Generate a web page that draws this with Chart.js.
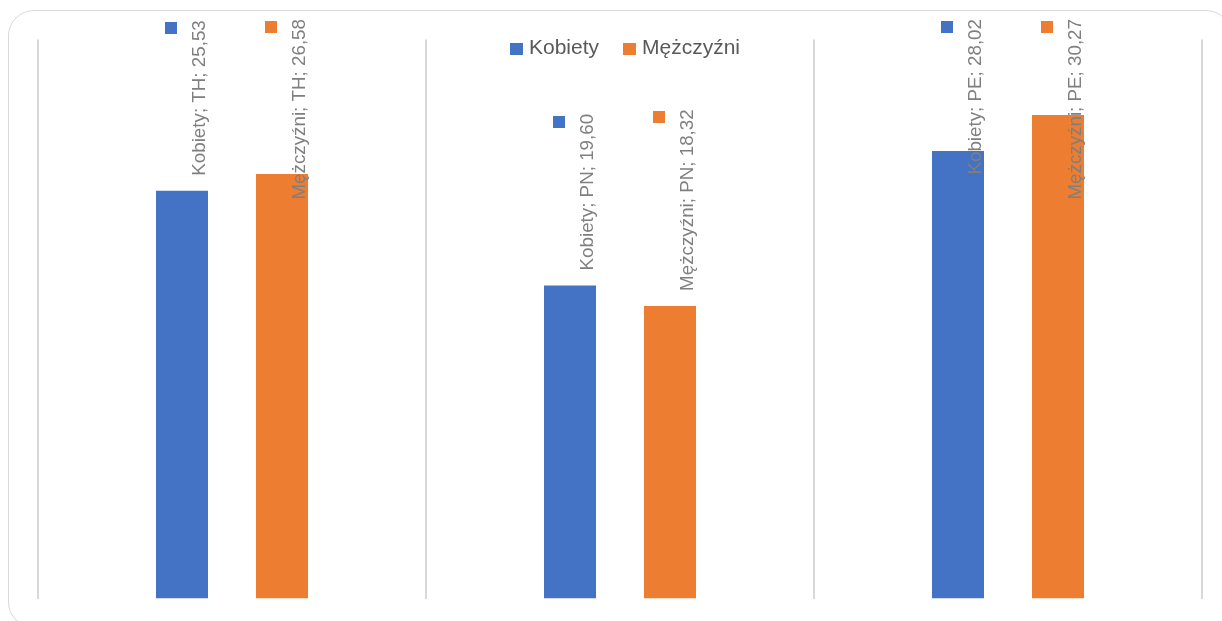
<!DOCTYPE html>
<html lang="pl">
<head>
<meta charset="utf-8">
<title>Kobiety i Mężczyźni – TH, PN, PE</title>
<script src="https://cdn.jsdelivr.net/npm/chart.js@4.4.1/dist/chart.umd.min.js"></script>
<style>
  html, body { margin: 0; padding: 0; background: #fff; overflow: hidden; }
  #wrap { position: relative; width: 1222px; height: 621px; overflow: hidden; }
  #frame {
    position: absolute; left: 8px; top: 10px; width: 1224px; height: 618px;
    border: 1.5px solid #d9d9d9; border-radius: 26px; box-sizing: border-box;
  }
  #chart { position: absolute; left: 0; top: 0; }
</style>
</head>
<body>
<div id="wrap">
  <div id="frame"></div>
  <canvas id="chart" width="1222" height="621"></canvas>
</div>
<script>
// Kategorie i wartości serii
const categories = ['TH', 'PN', 'PE'];
const kobiety = [25.53, 19.60, 28.02];
const mezczyzni = [26.58, 18.32, 30.27];
const seriesNames = ['Kobiety', 'Mężczyźni'];
const seriesColors = ['#4472C4', '#ED7D31'];

const labelFont = '18.8px "Liberation Sans", Arial, sans-serif';
const legendFont = '21px "Liberation Sans", Arial, sans-serif';

const fmt = v => v.toFixed(2).replace('.', ',');

// Etykiety danych obrócone o 90°, z kwadracikiem koloru serii nad tekstem
const rotatedLabels = {
  id: 'rotatedLabels',
  afterDatasetsDraw(chart) {
    const ctx = chart.ctx;
    const gap = 15;
    const topLimit = 19;
    ctx.save();
    ctx.font = labelFont;
    chart.data.datasets.forEach((ds, di) => {
      const meta = chart.getDatasetMeta(di);
      meta.data.forEach((bar, i) => {
        const text = `${ds.label}; ${chart.data.labels[i]}; ${fmt(ds.data[i])}`;
        const w = ctx.measureText(text).width;
        let start = bar.y - gap;
        if (start - w < topLimit) start = topLimit + w;

        ctx.save();
        ctx.translate(bar.x + 23, start);
        ctx.rotate(-Math.PI / 2);
        ctx.fillStyle = '#7f7f7f';
        ctx.textAlign = 'left';
        ctx.textBaseline = 'alphabetic';
        ctx.fillText(text, 0, 0);
        ctx.restore();

        ctx.fillStyle = ds.backgroundColor;
        ctx.fillRect(Math.round(bar.x - 17), Math.round(start - w + 2), 12, 12);
      });
    });
    ctx.restore();
  }
};

// Legenda u góry, nałożona na obszar wykresu
const topLegend = {
  id: 'topLegend',
  afterDraw(chart) {
    const ctx = chart.ctx;
    const box = 13, textGap = 6, itemGap = 24;
    ctx.save();
    ctx.font = legendFont;
    const items = chart.data.datasets.map(ds => ({
      label: ds.label, color: ds.backgroundColor, w: ctx.measureText(ds.label).width
    }));
    const total = items.reduce((s, it) => s + box + textGap + it.w, 0) + itemGap * (items.length - 1);
    const area = chart.chartArea;
    let x = (area.left + area.right) / 2 + 5 - total / 2;
    const cy = 48.5;
    items.forEach(it => {
      ctx.fillStyle = it.color;
      ctx.fillRect(Math.round(x), Math.round(cy - 6), box, 12);
      ctx.fillStyle = '#595959';
      ctx.textAlign = 'left';
      ctx.textBaseline = 'middle';
      ctx.fillText(it.label, x + box + textGap, cy);
      x += box + textGap + it.w + itemGap;
    });
    ctx.restore();
  }
};

new Chart(document.getElementById('chart'), {
  type: 'bar',
  data: {
    labels: categories,
    datasets: [
      { label: seriesNames[0], data: kobiety, backgroundColor: seriesColors[0] },
      { label: seriesNames[1], data: mezczyzni, backgroundColor: seriesColors[1] }
    ]
  },
  options: {
    responsive: false,
    animation: false,
    categoryPercentage: 0.5155,
    barPercentage: 0.52,
    layout: { padding: { left: 38, right: 20, top: 39.5, bottom: 22.5 } },
    plugins: {
      legend: { display: false },
      tooltip: { enabled: false }
    },
    scales: {
      x: {
        ticks: { display: false },
        border: { display: false },
        grid: { offset: true, color: '#d9d9d9', lineWidth: 2, drawTicks: false }
      },
      y: {
        display: false,
        min: 0,
        max: 35
      }
    }
  },
  plugins: [rotatedLabels, topLegend]
});
</script>
</body>
</html>
